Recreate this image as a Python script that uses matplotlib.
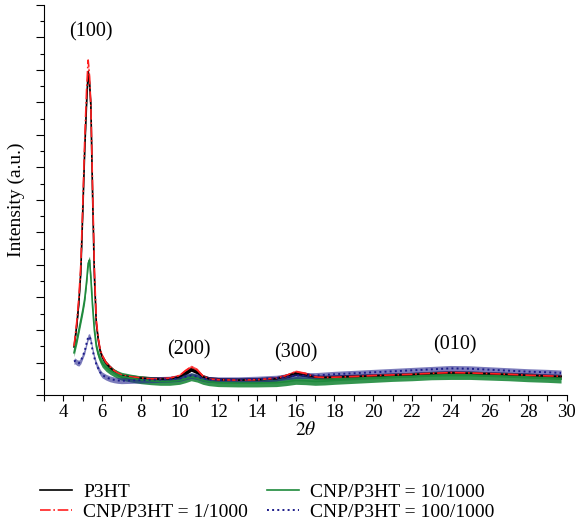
import numpy as np
import matplotlib
matplotlib.use('Agg')
import matplotlib.pyplot as plt
from matplotlib.ticker import MultipleLocator, NullFormatter

plt.rcParams['font.family'] = ['Liberation Serif', 'DejaVu Serif']
plt.rcParams['mathtext.fontset'] = 'stix'
plt.rcParams['font.size'] = 13.5

# 2theta positions (deg)
two_theta = [4.55, 4.6, 4.7, 4.8, 4.9, 5.0, 5.1, 5.2, 5.28, 5.35, 5.42, 5.5, 5.6, 5.7, 5.8, 5.9,
             6.0, 6.2, 6.4, 6.6, 6.8, 7.0, 7.5, 8, 8.5, 9, 9.5, 10, 10.3, 10.6, 10.9, 11.2,
             11.5, 12, 13, 14, 15, 15.5, 16, 16.5, 17, 17.5, 18, 19, 20, 21, 22, 23, 24,
             25, 26, 27, 28, 29, 29.7]

# intensity (a.u.), one list per sample
p3ht = [1.48, 1.7, 2.2, 2.85, 3.8, 5.6, 7.5, 9.0, 9.95, 9.6, 8.9, 6.4, 3.7, 2.2, 1.7, 1.35,
        1.18, 0.98, 0.85, 0.74, 0.66, 0.6, 0.55, 0.52, 0.5, 0.49, 0.5, 0.55, 0.68, 0.8, 0.72, 0.56,
        0.5, 0.47, 0.46, 0.47, 0.5, 0.58, 0.67, 0.63, 0.55, 0.54, 0.55, 0.57, 0.59, 0.61, 0.63, 0.66, 0.68,
        0.67, 0.65, 0.63, 0.61, 0.58, 0.57]
cnp_1 = [1.5, 1.75, 2.3, 3.0, 4.0, 5.8, 7.8, 9.4, 10.3, 9.8, 8.9, 6.6, 3.9, 2.3, 1.75, 1.4,
         1.22, 1.0, 0.87, 0.76, 0.68, 0.62, 0.56, 0.53, 0.5, 0.5, 0.52, 0.6, 0.75, 0.87, 0.78, 0.58,
         0.5, 0.47, 0.46, 0.47, 0.52, 0.6, 0.72, 0.66, 0.56, 0.54, 0.55, 0.57, 0.6, 0.62, 0.64, 0.67, 0.69,
         0.68, 0.66, 0.64, 0.61, 0.59, 0.58]
cnp_10 = [1.3, 1.45, 1.7, 2.0, 2.3, 2.6, 2.95, 3.5, 4.05, 4.15, 3.6, 2.8, 2.0, 1.5, 1.25, 1.1,
          0.98, 0.85, 0.76, 0.69, 0.63, 0.58, 0.52, 0.47, 0.44, 0.42, 0.42, 0.45, 0.5, 0.56, 0.52, 0.45,
          0.41, 0.38, 0.37, 0.37, 0.38, 0.41, 0.45, 0.44, 0.42, 0.43, 0.45, 0.48, 0.51, 0.54, 0.56, 0.59, 0.6,
          0.6, 0.58, 0.56, 0.53, 0.51, 0.49]
cnp_100 = [1.03, 1.05, 1.0, 0.98, 1.05, 1.2, 1.35, 1.6, 1.78, 1.8, 1.68, 1.4, 1.15, 0.95, 0.82, 0.7,
           0.62, 0.55, 0.5, 0.47, 0.45, 0.44, 0.45, 0.46, 0.47, 0.48, 0.49, 0.51, 0.56, 0.6, 0.57, 0.51,
           0.48, 0.47, 0.47, 0.49, 0.52, 0.56, 0.6, 0.6, 0.6, 0.62, 0.64, 0.67, 0.7, 0.73, 0.76, 0.79, 0.82,
           0.81, 0.78, 0.75, 0.72, 0.7, 0.68]

labels = ['P3HT', 'CNP/P3HT = 1/1000', 'CNP/P3HT = 10/1000', 'CNP/P3HT = 100/1000']
peaks = ['(100)', '(200)', '(300)', '(010)']
peak_x = [5.4, 10.5, 16.0, 24.2]
peak_y = [11.17, 1.39, 1.3, 1.54]

x = np.array(two_theta)

fig = plt.figure(figsize=(5.79, 5.31), dpi=100)
ax = fig.add_axes([0.076, 0.256, 0.903, 0.735])

# noisy band + trace for each sample
ax.fill_between(x, np.array(p3ht) - 0.07, np.array(p3ht) + 0.07, color='black', lw=0)
l1, = ax.plot(x, p3ht, color='black', lw=1.2)
ax.fill_between(x, np.array(cnp_1) - 0.05, np.array(cnp_1) + 0.05, color='#ff3030', lw=0, alpha=0.8)
l2, = ax.plot(x, cnp_1, color='#ff2020', lw=1.2, ls='-.')
ax.fill_between(x, np.array(cnp_10) - 0.12, np.array(cnp_10) + 0.12, color='#1e8a3c', lw=0, alpha=0.9)
l3, = ax.plot(x, cnp_10, color='#1e8a3c', lw=1.2)
ax.fill_between(x, np.array(cnp_100) - 0.09, np.array(cnp_100) + 0.09, color='#25258f', lw=0, alpha=0.6)
l4, = ax.plot(x, cnp_100, color='#1c1c8a', lw=1.4, ls=':')

for t, px, py in zip(peaks, peak_x, peak_y):
    ax.text(px, py, t, ha='center', va='center', fontsize=14.5)

ax.set_xlim(3, 30)
ax.set_ylim(0, 12)
ax.xaxis.set_major_locator(MultipleLocator(2))
ax.xaxis.set_minor_locator(MultipleLocator(1))
ax.yaxis.set_major_locator(MultipleLocator(1))
ax.yaxis.set_minor_locator(MultipleLocator(0.5))
ax.yaxis.set_major_formatter(NullFormatter())
ax.set_xticks(range(4, 31, 2))
ax.tick_params(axis='x', which='major', direction='out', length=4.5, width=0.8, labelsize=13.5, pad=2)
ax.tick_params(axis='x', which='minor', direction='out', length=4, width=0.8)
ax.tick_params(axis='y', which='major', direction='out', length=5.5, width=0.8)
ax.tick_params(axis='y', which='minor', direction='out', length=3, width=0.8)
for s in ['top', 'right']:
    ax.spines[s].set_visible(False)
for s in ['left', 'bottom']:
    ax.spines[s].set_linewidth(0.8)

ax.set_xlabel(r'$2\theta$', fontsize=14, labelpad=0)
ax.set_ylabel('Intensity (a.u.)', fontsize=14, labelpad=5)

fig.legend([l1, l2, l3, l4], labels, ncol=2, frameon=False, loc='center left',
           bbox_to_anchor=(0.052, 0.0546), borderpad=0, handlelength=1.65, handletextpad=0.57,
           columnspacing=1.0, labelspacing=0.1, fontsize=14)

fig.savefig('out.png', dpi=100)
